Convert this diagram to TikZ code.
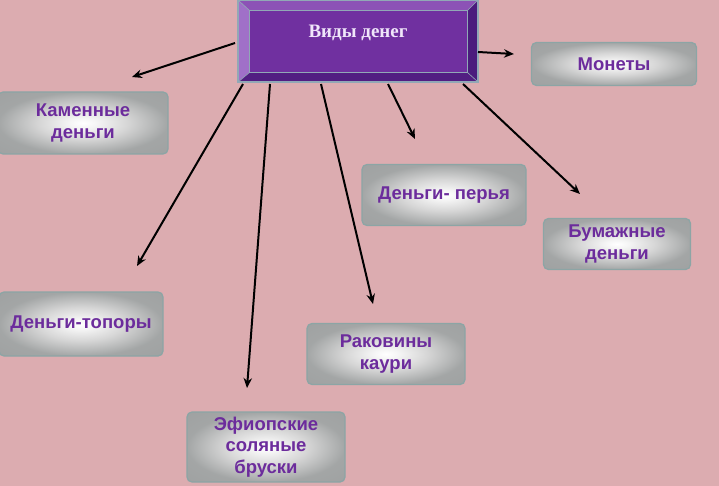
\documentclass[tikz,border=0pt]{standalone}
\usepackage{fontspec}
\setmainfont{Liberation Sans}
\newfontfamily\titlefont{Liberation Serif}
\usetikzlibrary{arrows.meta,calc}
\definecolor{bgpink}{RGB}{220,172,176}
\definecolor{txtpurple}{RGB}{108,44,156}
\definecolor{boxedge}{RGB}{140,165,165}
\definecolor{tface}{RGB}{112,48,160}
\definecolor{ttop}{RGB}{140,82,182}
\definecolor{tleft}{RGB}{160,112,200}
\definecolor{tright}{RGB}{75,28,125}
\definecolor{tbottom}{RGB}{82,30,130}
\definecolor{tedge}{RGB}{145,168,182}
\definecolor{ttext}{RGB}{240,230,250}
\pgfdeclareradialshading{softgray}{\pgfpoint{0bp}{0bp}}{%
  rgb(0bp)=(1,1,1); rgb(4bp)=(0.96,0.96,0.96); rgb(13bp)=(0.84,0.84,0.84);
  rgb(25bp)=(0.64,0.65,0.65); rgb(50bp)=(0.6,0.61,0.61)}
\tikzset{
  graybox/.style={rounded corners=5pt, draw=boxedge, line width=1.3pt,
    shading=softgray, align=center,
    font=\fontsize{18.5}{21.5}\selectfont\bfseries, text=txtpurple,
    inner sep=0pt},
  arr/.style={line width=2pt, -{Stealth[length=10pt,width=8.5pt]}}
}
\begin{document}
\begin{tikzpicture}[x=1pt,y=-1pt]
\useasboundingbox (0,0) rectangle (719,486);
\fill[bgpink] (0,0) rectangle (719,486);

% title box
\node[minimum width=240pt, minimum height=82pt, inner sep=0pt] (title) at (358,41) {};
\coordinate (iNW) at ($(title.north west)+(12,11)$);
\coordinate (iNE) at ($(title.north east)+(-11,11)$);
\coordinate (iSW) at ($(title.south west)+(12,-10)$);
\coordinate (iSE) at ($(title.south east)+(-11,-10)$);
\fill[tface] (iNW) rectangle (iSE);
\fill[ttop] (title.north west) -- (title.north east) -- (iNE) -- (iNW) -- cycle;
\fill[tleft] (title.north west) -- (iNW) -- (iSW) -- (title.south west) -- cycle;
\fill[tright] (title.north east) -- (title.south east) -- (iSE) -- (iNE) -- cycle;
\fill[tbottom] (title.south west) -- (iSW) -- (iSE) -- (title.south east) -- cycle;
\draw[tedge, line width=0.8pt] (iNW) rectangle (iSE);
\draw[tedge, line width=0.6pt] (title.north west) -- (iNW) (title.north east) -- (iNE)
  (title.south west) -- (iSW) (title.south east) -- (iSE);
\draw[tedge, line width=1.6pt] (title.north west) rectangle (title.south east);
\node[text=ttext, font=\titlefont\fontsize{19}{20}\selectfont\bfseries] (tlabel) at (358,33) {Виды денег};

% boxes
\node[graybox, minimum width=165pt, minimum height=43pt] (monety) at (614,64) {Монеты};
\node[graybox, minimum width=170pt, minimum height=62pt] (kamen) at (83,123) {Каменные\\деньги};
\node[graybox, minimum width=164pt, minimum height=61pt] (perya) at (444,195) {Деньги- перья};
\node[graybox, minimum width=147pt, minimum height=51pt] (bumaga) at (617,244) {Бумажные\\деньги};
\node[graybox, minimum width=164pt, minimum height=64pt] (topory) at (81,324) {Деньги-топоры};
\node[graybox, minimum width=158pt, minimum height=61pt] (kauri) at (386,354) {Раковины\\каури};
\node[graybox, minimum width=158pt, minimum height=70pt] (brusok) at (266,447) {Эфиопские\\соляные\\бруски};

% arrow end points
\coordinate (s1) at (235,43);  \coordinate (e1) at (132,77);
\coordinate (s2) at (478,52);  \coordinate (e2) at (514,54);
\coordinate (s3) at (243,84);  \coordinate (e3) at (137,266);
\coordinate (s4) at (270,84);  \coordinate (e4) at (247,388);
\coordinate (s5) at (321,84);  \coordinate (e5) at (373,304);
\coordinate (s6) at (388,84);  \coordinate (e6) at (415,139);
\coordinate (s7) at (463,84);  \coordinate (e7) at (580,194);
\foreach \i in {1,...,7} {\draw[arr] (s\i) -- (e\i);}
\end{tikzpicture}
\end{document}
